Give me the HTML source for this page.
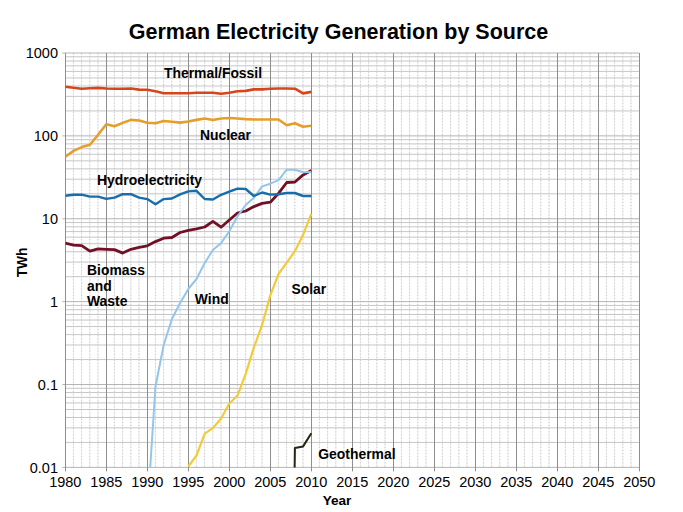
<!DOCTYPE html>
<html><head><meta charset="utf-8"><style>
html,body{margin:0;padding:0;background:#fff;}
svg{display:block;}
text{font-family:"Liberation Sans",sans-serif;fill:#000;}
.tk{font-size:14.5px;}
.lb{font-size:13.9px;font-weight:bold;}
.ti{font-size:21.5px;font-weight:bold;}
.mv0{stroke:#efefef;stroke-width:1;}
.mv{stroke:#cccccc;stroke-width:1;stroke-dasharray:1.2 1.9;}
.mh{stroke:#c6c6c6;stroke-width:1;}
.Mh{stroke:#b4b4b4;stroke-width:1;}
.Mv{stroke:#8e8e8e;stroke-width:1;}
polyline{fill:none;stroke-linejoin:round;stroke-linecap:butt;}
.th{stroke:#d6461c;stroke-width:2.6;}
.nu{stroke:#e69e2a;stroke-width:2.6;}
.hy{stroke:#186eaa;stroke-width:2.4;}
.bi{stroke:#721026;stroke-width:2.8;}
.wi{stroke:#92c6ec;stroke-width:2.0;}
.so{stroke:#f2cc38;stroke-width:2.2;}
.ge{stroke:#262610;stroke-width:2;}
</style></head><body>
<svg width="683" height="512" viewBox="0 0 683 512">
<defs><clipPath id="pa"><rect x="65.3" y="53.0" width="574.0" height="414.4"/></clipPath></defs>
<g><line x1="73.4" y1="53.0" x2="73.4" y2="467.4" class="mv0"/><line x1="73.4" y1="53.0" x2="73.4" y2="467.4" class="mv"/><line x1="81.6" y1="53.0" x2="81.6" y2="467.4" class="mv0"/><line x1="81.6" y1="53.0" x2="81.6" y2="467.4" class="mv"/><line x1="89.8" y1="53.0" x2="89.8" y2="467.4" class="mv0"/><line x1="89.8" y1="53.0" x2="89.8" y2="467.4" class="mv"/><line x1="98.0" y1="53.0" x2="98.0" y2="467.4" class="mv0"/><line x1="98.0" y1="53.0" x2="98.0" y2="467.4" class="mv"/><line x1="114.4" y1="53.0" x2="114.4" y2="467.4" class="mv0"/><line x1="114.4" y1="53.0" x2="114.4" y2="467.4" class="mv"/><line x1="122.6" y1="53.0" x2="122.6" y2="467.4" class="mv0"/><line x1="122.6" y1="53.0" x2="122.6" y2="467.4" class="mv"/><line x1="130.8" y1="53.0" x2="130.8" y2="467.4" class="mv0"/><line x1="130.8" y1="53.0" x2="130.8" y2="467.4" class="mv"/><line x1="139.0" y1="53.0" x2="139.0" y2="467.4" class="mv0"/><line x1="139.0" y1="53.0" x2="139.0" y2="467.4" class="mv"/><line x1="155.4" y1="53.0" x2="155.4" y2="467.4" class="mv0"/><line x1="155.4" y1="53.0" x2="155.4" y2="467.4" class="mv"/><line x1="163.6" y1="53.0" x2="163.6" y2="467.4" class="mv0"/><line x1="163.6" y1="53.0" x2="163.6" y2="467.4" class="mv"/><line x1="171.8" y1="53.0" x2="171.8" y2="467.4" class="mv0"/><line x1="171.8" y1="53.0" x2="171.8" y2="467.4" class="mv"/><line x1="180.0" y1="53.0" x2="180.0" y2="467.4" class="mv0"/><line x1="180.0" y1="53.0" x2="180.0" y2="467.4" class="mv"/><line x1="196.4" y1="53.0" x2="196.4" y2="467.4" class="mv0"/><line x1="196.4" y1="53.0" x2="196.4" y2="467.4" class="mv"/><line x1="204.6" y1="53.0" x2="204.6" y2="467.4" class="mv0"/><line x1="204.6" y1="53.0" x2="204.6" y2="467.4" class="mv"/><line x1="212.8" y1="53.0" x2="212.8" y2="467.4" class="mv0"/><line x1="212.8" y1="53.0" x2="212.8" y2="467.4" class="mv"/><line x1="221.0" y1="53.0" x2="221.0" y2="467.4" class="mv0"/><line x1="221.0" y1="53.0" x2="221.0" y2="467.4" class="mv"/><line x1="237.4" y1="53.0" x2="237.4" y2="467.4" class="mv0"/><line x1="237.4" y1="53.0" x2="237.4" y2="467.4" class="mv"/><line x1="245.6" y1="53.0" x2="245.6" y2="467.4" class="mv0"/><line x1="245.6" y1="53.0" x2="245.6" y2="467.4" class="mv"/><line x1="253.8" y1="53.0" x2="253.8" y2="467.4" class="mv0"/><line x1="253.8" y1="53.0" x2="253.8" y2="467.4" class="mv"/><line x1="262.0" y1="53.0" x2="262.0" y2="467.4" class="mv0"/><line x1="262.0" y1="53.0" x2="262.0" y2="467.4" class="mv"/><line x1="278.4" y1="53.0" x2="278.4" y2="467.4" class="mv0"/><line x1="278.4" y1="53.0" x2="278.4" y2="467.4" class="mv"/><line x1="286.6" y1="53.0" x2="286.6" y2="467.4" class="mv0"/><line x1="286.6" y1="53.0" x2="286.6" y2="467.4" class="mv"/><line x1="294.8" y1="53.0" x2="294.8" y2="467.4" class="mv0"/><line x1="294.8" y1="53.0" x2="294.8" y2="467.4" class="mv"/><line x1="303.0" y1="53.0" x2="303.0" y2="467.4" class="mv0"/><line x1="303.0" y1="53.0" x2="303.0" y2="467.4" class="mv"/><line x1="319.4" y1="53.0" x2="319.4" y2="467.4" class="mv0"/><line x1="319.4" y1="53.0" x2="319.4" y2="467.4" class="mv"/><line x1="327.6" y1="53.0" x2="327.6" y2="467.4" class="mv0"/><line x1="327.6" y1="53.0" x2="327.6" y2="467.4" class="mv"/><line x1="335.8" y1="53.0" x2="335.8" y2="467.4" class="mv0"/><line x1="335.8" y1="53.0" x2="335.8" y2="467.4" class="mv"/><line x1="344.0" y1="53.0" x2="344.0" y2="467.4" class="mv0"/><line x1="344.0" y1="53.0" x2="344.0" y2="467.4" class="mv"/><line x1="360.4" y1="53.0" x2="360.4" y2="467.4" class="mv0"/><line x1="360.4" y1="53.0" x2="360.4" y2="467.4" class="mv"/><line x1="368.6" y1="53.0" x2="368.6" y2="467.4" class="mv0"/><line x1="368.6" y1="53.0" x2="368.6" y2="467.4" class="mv"/><line x1="376.8" y1="53.0" x2="376.8" y2="467.4" class="mv0"/><line x1="376.8" y1="53.0" x2="376.8" y2="467.4" class="mv"/><line x1="385.0" y1="53.0" x2="385.0" y2="467.4" class="mv0"/><line x1="385.0" y1="53.0" x2="385.0" y2="467.4" class="mv"/><line x1="401.4" y1="53.0" x2="401.4" y2="467.4" class="mv0"/><line x1="401.4" y1="53.0" x2="401.4" y2="467.4" class="mv"/><line x1="409.6" y1="53.0" x2="409.6" y2="467.4" class="mv0"/><line x1="409.6" y1="53.0" x2="409.6" y2="467.4" class="mv"/><line x1="417.8" y1="53.0" x2="417.8" y2="467.4" class="mv0"/><line x1="417.8" y1="53.0" x2="417.8" y2="467.4" class="mv"/><line x1="426.0" y1="53.0" x2="426.0" y2="467.4" class="mv0"/><line x1="426.0" y1="53.0" x2="426.0" y2="467.4" class="mv"/><line x1="442.4" y1="53.0" x2="442.4" y2="467.4" class="mv0"/><line x1="442.4" y1="53.0" x2="442.4" y2="467.4" class="mv"/><line x1="450.6" y1="53.0" x2="450.6" y2="467.4" class="mv0"/><line x1="450.6" y1="53.0" x2="450.6" y2="467.4" class="mv"/><line x1="458.8" y1="53.0" x2="458.8" y2="467.4" class="mv0"/><line x1="458.8" y1="53.0" x2="458.8" y2="467.4" class="mv"/><line x1="467.0" y1="53.0" x2="467.0" y2="467.4" class="mv0"/><line x1="467.0" y1="53.0" x2="467.0" y2="467.4" class="mv"/><line x1="483.4" y1="53.0" x2="483.4" y2="467.4" class="mv0"/><line x1="483.4" y1="53.0" x2="483.4" y2="467.4" class="mv"/><line x1="491.6" y1="53.0" x2="491.6" y2="467.4" class="mv0"/><line x1="491.6" y1="53.0" x2="491.6" y2="467.4" class="mv"/><line x1="499.8" y1="53.0" x2="499.8" y2="467.4" class="mv0"/><line x1="499.8" y1="53.0" x2="499.8" y2="467.4" class="mv"/><line x1="508.0" y1="53.0" x2="508.0" y2="467.4" class="mv0"/><line x1="508.0" y1="53.0" x2="508.0" y2="467.4" class="mv"/><line x1="524.4" y1="53.0" x2="524.4" y2="467.4" class="mv0"/><line x1="524.4" y1="53.0" x2="524.4" y2="467.4" class="mv"/><line x1="532.6" y1="53.0" x2="532.6" y2="467.4" class="mv0"/><line x1="532.6" y1="53.0" x2="532.6" y2="467.4" class="mv"/><line x1="540.8" y1="53.0" x2="540.8" y2="467.4" class="mv0"/><line x1="540.8" y1="53.0" x2="540.8" y2="467.4" class="mv"/><line x1="549.0" y1="53.0" x2="549.0" y2="467.4" class="mv0"/><line x1="549.0" y1="53.0" x2="549.0" y2="467.4" class="mv"/><line x1="565.4" y1="53.0" x2="565.4" y2="467.4" class="mv0"/><line x1="565.4" y1="53.0" x2="565.4" y2="467.4" class="mv"/><line x1="573.6" y1="53.0" x2="573.6" y2="467.4" class="mv0"/><line x1="573.6" y1="53.0" x2="573.6" y2="467.4" class="mv"/><line x1="581.8" y1="53.0" x2="581.8" y2="467.4" class="mv0"/><line x1="581.8" y1="53.0" x2="581.8" y2="467.4" class="mv"/><line x1="590.0" y1="53.0" x2="590.0" y2="467.4" class="mv0"/><line x1="590.0" y1="53.0" x2="590.0" y2="467.4" class="mv"/><line x1="606.4" y1="53.0" x2="606.4" y2="467.4" class="mv0"/><line x1="606.4" y1="53.0" x2="606.4" y2="467.4" class="mv"/><line x1="614.6" y1="53.0" x2="614.6" y2="467.4" class="mv0"/><line x1="614.6" y1="53.0" x2="614.6" y2="467.4" class="mv"/><line x1="622.8" y1="53.0" x2="622.8" y2="467.4" class="mv0"/><line x1="622.8" y1="53.0" x2="622.8" y2="467.4" class="mv"/><line x1="631.0" y1="53.0" x2="631.0" y2="467.4" class="mv0"/><line x1="631.0" y1="53.0" x2="631.0" y2="467.4" class="mv"/><line x1="65.3" y1="110.93" x2="639.3" y2="110.93" class="mh"/><line x1="65.3" y1="96.34" x2="639.3" y2="96.34" class="mh"/><line x1="65.3" y1="85.98" x2="639.3" y2="85.98" class="mh"/><line x1="65.3" y1="77.95" x2="639.3" y2="77.95" class="mh"/><line x1="65.3" y1="71.39" x2="639.3" y2="71.39" class="mh"/><line x1="65.3" y1="65.84" x2="639.3" y2="65.84" class="mh"/><line x1="65.3" y1="61.03" x2="639.3" y2="61.03" class="mh"/><line x1="65.3" y1="56.79" x2="639.3" y2="56.79" class="mh"/><line x1="65.3" y1="193.81" x2="639.3" y2="193.81" class="mh"/><line x1="65.3" y1="179.22" x2="639.3" y2="179.22" class="mh"/><line x1="65.3" y1="168.86" x2="639.3" y2="168.86" class="mh"/><line x1="65.3" y1="160.83" x2="639.3" y2="160.83" class="mh"/><line x1="65.3" y1="154.27" x2="639.3" y2="154.27" class="mh"/><line x1="65.3" y1="148.72" x2="639.3" y2="148.72" class="mh"/><line x1="65.3" y1="143.91" x2="639.3" y2="143.91" class="mh"/><line x1="65.3" y1="139.67" x2="639.3" y2="139.67" class="mh"/><line x1="65.3" y1="276.69" x2="639.3" y2="276.69" class="mh"/><line x1="65.3" y1="262.1" x2="639.3" y2="262.1" class="mh"/><line x1="65.3" y1="251.74" x2="639.3" y2="251.74" class="mh"/><line x1="65.3" y1="243.71" x2="639.3" y2="243.71" class="mh"/><line x1="65.3" y1="237.15" x2="639.3" y2="237.15" class="mh"/><line x1="65.3" y1="231.6" x2="639.3" y2="231.6" class="mh"/><line x1="65.3" y1="226.79" x2="639.3" y2="226.79" class="mh"/><line x1="65.3" y1="222.55" x2="639.3" y2="222.55" class="mh"/><line x1="65.3" y1="359.57" x2="639.3" y2="359.57" class="mh"/><line x1="65.3" y1="344.98" x2="639.3" y2="344.98" class="mh"/><line x1="65.3" y1="334.62" x2="639.3" y2="334.62" class="mh"/><line x1="65.3" y1="326.59" x2="639.3" y2="326.59" class="mh"/><line x1="65.3" y1="320.03" x2="639.3" y2="320.03" class="mh"/><line x1="65.3" y1="314.48" x2="639.3" y2="314.48" class="mh"/><line x1="65.3" y1="309.67" x2="639.3" y2="309.67" class="mh"/><line x1="65.3" y1="305.43" x2="639.3" y2="305.43" class="mh"/><line x1="65.3" y1="442.45" x2="639.3" y2="442.45" class="mh"/><line x1="65.3" y1="427.86" x2="639.3" y2="427.86" class="mh"/><line x1="65.3" y1="417.5" x2="639.3" y2="417.5" class="mh"/><line x1="65.3" y1="409.47" x2="639.3" y2="409.47" class="mh"/><line x1="65.3" y1="402.91" x2="639.3" y2="402.91" class="mh"/><line x1="65.3" y1="397.36" x2="639.3" y2="397.36" class="mh"/><line x1="65.3" y1="392.55" x2="639.3" y2="392.55" class="mh"/><line x1="65.3" y1="388.31" x2="639.3" y2="388.31" class="mh"/><line x1="62.3" y1="53.0" x2="639.3" y2="53.0" class="Mh"/><line x1="62.3" y1="135.88" x2="639.3" y2="135.88" class="Mh"/><line x1="62.3" y1="218.76" x2="639.3" y2="218.76" class="Mh"/><line x1="62.3" y1="301.64" x2="639.3" y2="301.64" class="Mh"/><line x1="62.3" y1="384.52" x2="639.3" y2="384.52" class="Mh"/><line x1="62.3" y1="467.4" x2="639.3" y2="467.4" class="Mh"/><line x1="65.5" y1="53.0" x2="65.5" y2="471.4" class="Mv"/><line x1="106.5" y1="53.0" x2="106.5" y2="471.4" class="Mv"/><line x1="147.5" y1="53.0" x2="147.5" y2="471.4" class="Mv"/><line x1="188.5" y1="53.0" x2="188.5" y2="471.4" class="Mv"/><line x1="229.5" y1="53.0" x2="229.5" y2="471.4" class="Mv"/><line x1="270.5" y1="53.0" x2="270.5" y2="471.4" class="Mv"/><line x1="311.5" y1="53.0" x2="311.5" y2="471.4" class="Mv"/><line x1="352.5" y1="53.0" x2="352.5" y2="471.4" class="Mv"/><line x1="393.5" y1="53.0" x2="393.5" y2="471.4" class="Mv"/><line x1="434.5" y1="53.0" x2="434.5" y2="471.4" class="Mv"/><line x1="475.5" y1="53.0" x2="475.5" y2="471.4" class="Mv"/><line x1="516.5" y1="53.0" x2="516.5" y2="471.4" class="Mv"/><line x1="557.5" y1="53.0" x2="557.5" y2="471.4" class="Mv"/><line x1="598.5" y1="53.0" x2="598.5" y2="471.4" class="Mv"/><line x1="639.5" y1="53.0" x2="639.5" y2="471.4" class="Mv"/></g>
<g clip-path="url(#pa)"><polyline points="65.3,86.7 73.5,87.7 81.7,88.7 89.9,88.3 98.1,87.9 106.3,88.5 114.5,88.7 122.7,88.7 130.9,88.5 139.1,89.6 147.3,89.8 155.5,91.3 163.7,93.2 171.9,93.2 180.1,93.2 188.3,93.2 196.5,92.8 204.7,92.8 212.9,92.8 221.1,93.8 229.3,92.8 237.5,91.3 245.7,90.9 253.9,89.4 262.1,89.4 270.3,88.7 278.5,88.5 286.7,88.5 294.9,88.7 303.1,93.4 311.3,91.9" class="th"/><polyline points="65.3,156.8 73.5,150.9 81.7,147.1 89.9,144.7 98.1,134.7 106.3,124.3 114.5,126.2 122.7,122.9 130.9,119.9 139.1,120.5 147.3,122.8 155.5,123.3 163.7,121.0 171.9,121.8 180.1,122.6 188.3,121.5 196.5,119.9 204.7,118.5 212.9,120.0 221.1,118.5 229.3,118.0 237.5,118.5 245.7,119.1 253.9,119.5 262.1,119.5 270.3,119.5 278.5,119.5 286.7,125.2 294.9,123.3 303.1,126.7 311.3,125.8" class="nu"/><polyline points="65.3,243.2 73.5,245.2 81.7,245.6 89.9,251.2 98.1,248.9 106.3,249.3 114.5,249.6 122.7,253.1 130.9,249.3 139.1,247.4 147.3,245.8 155.5,241.6 163.7,238.2 171.9,237.5 180.1,232.5 188.3,230.3 196.5,228.9 204.7,227.0 212.9,221.4 221.1,227.2 229.3,220.0 237.5,213.0 245.7,211.0 253.9,206.6 262.1,203.4 270.3,202.2 278.5,193.4 286.7,182.5 294.9,182.0 303.1,174.9 311.3,170.5" class="bi"/><polyline points="147.3,512.0 155.5,386.5 163.7,345.0 171.9,319.0 180.1,303.0 188.3,289.0 196.5,279.0 204.7,263.0 212.9,250.0 221.1,243.0 229.3,231.3 237.5,216.3 245.7,205.0 253.9,197.8 262.1,186.4 270.3,183.7 278.5,180.2 286.7,169.7 294.9,169.7 303.1,172.3 311.3,172.0" class="wi"/><polyline points="65.3,195.7 73.5,194.7 81.7,194.7 89.9,196.6 98.1,196.6 106.3,198.9 114.5,197.6 122.7,194.2 130.9,194.2 139.1,197.6 147.3,199.1 155.5,204.3 163.7,199.1 171.9,198.5 180.1,194.4 188.3,191.4 196.5,190.8 204.7,199.0 212.9,199.5 221.1,194.8 229.3,191.6 237.5,188.6 245.7,189.0 253.9,196.0 262.1,192.5 270.3,194.6 278.5,194.3 286.7,193.0 294.9,193.0 303.1,196.0 311.3,196.0" class="hy"/><polyline points="188.3,466.5 196.5,455.5 204.7,433.6 212.9,428.1 221.1,418.5 229.3,403.5 237.5,395.6 245.7,373.8 253.9,347.4 262.1,325.0 270.3,295.3 278.5,274.0 286.7,262.7 294.9,251.2 303.1,234.8 311.3,213.8" class="so"/><polyline points="294.5,477.4 294.9,448 303.1,446.4 311.3,433.2" class="ge"/></g>
<text x="58" y="58.1" class="tk" text-anchor="end">1000</text><text x="58" y="141.0" class="tk" text-anchor="end">100</text><text x="58" y="223.9" class="tk" text-anchor="end">10</text><text x="58" y="306.7" class="tk" text-anchor="end">1</text><text x="58" y="389.6" class="tk" text-anchor="end">0.1</text><text x="58" y="472.5" class="tk" text-anchor="end">0.01</text><text x="65.3" y="487" class="tk" text-anchor="middle">1980</text><text x="106.3" y="487" class="tk" text-anchor="middle">1985</text><text x="147.3" y="487" class="tk" text-anchor="middle">1990</text><text x="188.3" y="487" class="tk" text-anchor="middle">1995</text><text x="229.3" y="487" class="tk" text-anchor="middle">2000</text><text x="270.3" y="487" class="tk" text-anchor="middle">2005</text><text x="311.3" y="487" class="tk" text-anchor="middle">2010</text><text x="352.3" y="487" class="tk" text-anchor="middle">2015</text><text x="393.3" y="487" class="tk" text-anchor="middle">2020</text><text x="434.3" y="487" class="tk" text-anchor="middle">2025</text><text x="475.3" y="487" class="tk" text-anchor="middle">2030</text><text x="516.3" y="487" class="tk" text-anchor="middle">2035</text><text x="557.3" y="487" class="tk" text-anchor="middle">2040</text><text x="598.3" y="487" class="tk" text-anchor="middle">2045</text><text x="639.3" y="487" class="tk" text-anchor="middle">2050</text>
<text x="338.5" y="38.9" class="ti" text-anchor="middle">German Electricity Generation by Source</text>
<text x="164" y="77.6" class="lb">Thermal/Fossil</text>
<text x="200" y="140" class="lb">Nuclear</text>
<text x="97" y="184.8" class="lb">Hydroelectricity</text>
<text x="87" y="275" class="lb">Biomass</text>
<text x="87" y="290.5" class="lb">and</text>
<text x="87" y="306.2" class="lb">Waste</text>
<text x="194.8" y="304.2" class="lb">Wind</text>
<text x="291.5" y="294" class="lb">Solar</text>
<text x="318.3" y="459" class="lb">Geothermal</text>
<text x="337" y="505" class="lb" text-anchor="middle" style="font-size:13.6px">Year</text>
<text transform="translate(27,262.4) rotate(-90)" class="lb" text-anchor="middle" style="font-size:13.8px">TWh</text>
</svg>
</body></html>
